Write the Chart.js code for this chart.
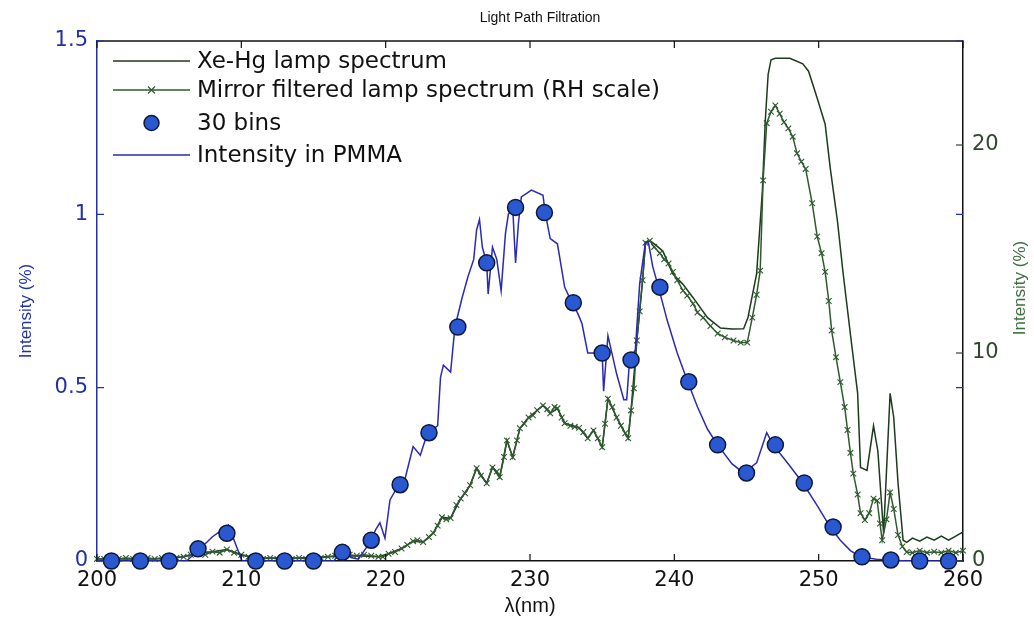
<!DOCTYPE html>
<html>
<head>
<meta charset="utf-8">
<script src="https://cdn.jsdelivr.net/npm/chart.js@4.4.1/dist/chart.umd.min.js"></script>
<style>
html,body{margin:0;padding:0;background:#fff;}
#wrap{width:1034px;height:620px;position:relative;}
</style>
</head>
<body>
<div id="wrap"><canvas id="c" width="1034" height="620"></canvas></div>
<script>
// ---------------- data ----------------
const chartTitle = 'Light Path Filtration';
const xTitle = 'λ(nm)';
const leftTitle = 'Intensity (%)';
const rightTitle = 'Intensity (%)';
const legendLabels = ['Xe-Hg lamp spectrum', 'Mirror filtered lamp spectrum (RH scale)', '30 bins', 'Intensity in PMMA'];

const xTicks = [200, 210, 220, 230, 240, 250, 260];
const leftTicks = [0, 0.5, 1, 1.5];
const rightTicks = [0, 10, 20];

// Intensity in PMMA (left axis)
const pmmaNm = [200,206.2,206.6,207,207.5,208,208.5,209.1,209.5,210.05,216.4,216.8,217.2,217.6,218.1,218.6,219,219.3,219.6,219.95,220.3,220.9,221.3,221.9,222.4,222.9,223.6,223.8,224.0,224.5,224.8,225.3,225.7,226.1,226.3,226.5,226.7,227.0,227.1,227.4,227.7,228.0,228.3,228.5,228.8,229.0,229.2,229.4,230.1,230.9,231.05,231.4,231.9,232.4,232.9,233.3,233.6,234.0,234.5,235.0,235.1,235.4,236.0,236.5,236.7,236.9,237.3,237.6,238.0,238.2,238.5,238.9,239.5,240.2,240.9,241.6,242.3,243.0,244.0,244.8,245.7,246.4,246.85,247.9,248.9,249.9,250.8,251.5,252.2,252.9,254,255,256,260];
const pmmaVal = [0,0,0.015,0.035,0.05,0.07,0.085,0.104,0.06,0,0,0.02,0.025,0.01,0.005,0.035,0.06,0.09,0.11,0.066,0.176,0.22,0.23,0.33,0.305,0.37,0.39,0.53,0.565,0.545,0.675,0.76,0.82,0.87,0.955,0.985,0.905,0.86,0.77,0.905,0.87,0.78,0.945,1.0,1.02,0.86,0.975,1.05,1.07,1.055,1.005,0.93,0.915,0.79,0.745,0.715,0.685,0.60,0.60,0.60,0.49,0.65,0.54,0.465,0.465,0.58,0.61,0.80,0.92,0.92,0.85,0.79,0.695,0.60,0.52,0.445,0.38,0.335,0.28,0.254,0.283,0.37,0.335,0.28,0.225,0.16,0.098,0.06,0.03,0.012,0.005,0.003,0,0];

// 30 bins (left axis)
const binNm = [201,203,205,207,209,211,213,215,217,219,221,223,225,227,229,231,233,235,237,239,241,243,245,247,249,251,253,255,257,259];
const binVal = [0,0,0,0.035,0.08,0,0,0,0.025,0.06,0.22,0.37,0.675,0.86,1.02,1.005,0.745,0.60,0.58,0.79,0.517,0.335,0.254,0.335,0.225,0.098,0.012,0.003,0,0];

// Mirror filtered lamp spectrum (right axis)
const mirrorNm = [200,200.5,201,201.5,202,202.5,203,203.5,204,204.5,205,205.5,206,206.5,207,207.5,208,208.5,209,209.5,210,210.5,211,211.5,212,212.5,213,213.5,214,214.5,215,215.5,216,216.5,217,217.5,218,218.5,219,219.5,219.8,220.2,220.65,221.1,221.5,221.9,222.2,222.6,223.0,223.3,223.6,223.9,224.2,224.5,224.9,225.2,225.5,225.85,226.3,226.6,227.0,227.4,227.7,227.9,228.2,228.4,228.8,229.1,229.3,229.6,229.9,230.2,230.5,230.9,231.2,231.4,231.7,231.9,232.2,232.4,232.8,233.1,233.4,233.7,234.0,234.4,234.7,235.0,235.2,235.4,235.7,236.0,236.3,236.6,236.8,237.0,237.2,237.4,237.6,237.8,238.0,238.3,238.6,239.0,239.3,239.6,239.9,240.2,240.6,240.9,241.3,241.6,242.0,242.5,243.0,243.5,244.1,244.6,245.05,245.4,245.7,245.95,246.15,246.4,246.7,247.0,247.3,247.6,247.9,248.2,248.5,248.8,249.1,249.55,249.9,250.2,250.45,250.7,250.9,251.2,251.5,251.8,252.0,252.2,252.4,252.7,252.9,253.2,253.5,253.8,254.05,254.25,254.4,254.7,254.95,255.2,255.5,255.8,256.1,256.5,257.0,257.5,258.0,258.5,259.0,259.5,260.0];
const mirrorVal = [0.1,0.1,0.15,0.1,0.15,0.1,0.1,0.15,0.1,0.15,0.1,0.15,0.2,0.3,0.4,0.3,0.45,0.4,0.55,0.4,0.3,0.2,0.15,0.1,0.15,0.1,0.15,0.1,0.15,0.1,0.15,0.15,0.2,0.25,0.2,0.3,0.25,0.3,0.25,0.2,0.2,0.35,0.43,0.6,0.77,0.95,1.0,0.91,1.15,1.34,1.7,2.1,2.0,2.06,2.69,3.0,3.26,3.64,4.46,4.1,3.74,4.5,4.3,4.03,5.0,5.8,4.99,5.8,6.38,6.6,6.9,7.0,7.25,7.48,7.3,7.1,7.4,7.34,6.9,6.62,6.5,6.45,6.4,6.2,5.9,6.28,5.9,5.47,6.6,7.8,7.4,6.9,6.5,6.14,5.9,7.24,8.3,10.6,12.0,13.5,15.3,15.4,15.1,14.8,14.5,14.3,13.9,13.5,13.0,12.76,12.37,11.95,11.7,11.3,10.94,10.75,10.6,10.5,10.5,11.7,12.8,13.96,18.3,21.05,21.6,21.9,21.5,21.1,20.8,20.4,19.6,19.2,18.85,17.2,15.6,14.8,13.9,12.5,11.08,9.8,8.6,7.4,6.3,5.2,4.2,3.2,2.3,1.97,2.3,3.0,2.9,1.8,1.0,2.0,3.3,2.5,1.25,0.7,0.43,0.4,0.5,0.4,0.45,0.4,0.5,0.4,0.5];

// Xe-Hg lamp spectrum (right-axis units)
const lampNm = [200,202,204,206,207,208,209,210,211,214,216,218,219.5,220.2,221.1,221.9,222.6,223.3,223.9,224.5,225.2,225.85,226.3,227.0,227.4,227.9,228.4,228.8,229.3,229.9,230.9,231.4,231.9,232.4,233.4,234.0,234.4,235.0,235.4,236.0,236.6,236.8,237.0,237.4,237.8,238.0,238.3,238.7,239.2,239.9,240.6,241.3,242.3,243.2,244.0,244.8,245.1,245.7,246.1,246.3,246.5,246.7,247.0,248.0,248.9,249.3,249.9,250.45,250.8,251.3,251.7,252.2,252.7,252.9,253.35,253.8,254.1,254.5,254.95,255.2,255.5,255.85,256.1,256.5,257,257.5,258,258.5,259,259.5,260];
const lampVal = [0.1,0.1,0.1,0.2,0.4,0.45,0.55,0.3,0.15,0.15,0.2,0.25,0.2,0.35,0.6,0.95,0.91,1.34,2.1,2.06,3.0,3.64,4.46,3.74,4.5,4.03,5.8,4.99,6.38,6.9,7.48,7.1,7.34,6.62,6.4,5.9,6.28,5.47,7.8,6.9,6.14,5.9,7.24,10.6,13.5,15.3,15.4,15.2,14.9,13.8,13.3,12.66,11.7,11.2,11.15,11.17,11.7,13.8,17.8,21.15,23.4,24.1,24.17,24.17,23.9,23.55,22.25,21.0,18.9,16.35,13.8,10.9,8.06,4.5,4.36,6.5,5.3,1.34,8.06,6.9,3.74,1.0,0.9,1.1,0.95,1.15,1.0,1.2,1.0,1.2,1.4];

// ---------------- styles ----------------
const BLUE_AXIS = '#2232a6';
const GREEN_AXIS = '#2c4a2c';
const GREEN_TITLE = '#3c6e3c';
const PMMA_COLOR = '#2a2ab4';
const BIN_FILL = '#2a58d0';
const BIN_EDGE = '#0e1838';
const MIRROR_COLOR = '#2f5a2f';
const LAMP_COLOR = '#1c3a1c';

const pairs = (xs, ys) => xs.map((x, i) => ({x: x, y: ys[i]}));

const decor = {
  id: 'decor',
  afterDraw(chart) {
    const ctx = chart.ctx, a = chart.chartArea;
    const sx = chart.scales.x, sy = chart.scales.y, sy2 = chart.scales.y2;
    ctx.save();
    // top frame line
    ctx.strokeStyle = '#111'; ctx.lineWidth = 1.5;
    ctx.beginPath(); ctx.moveTo(a.left, a.top); ctx.lineTo(a.right, a.top); ctx.stroke();
    // inward tick marks
    ctx.lineWidth = 1.2;
    xTicks.forEach(v => {
      const p = sx.getPixelForValue(v);
      ctx.beginPath();
      ctx.moveTo(p, a.bottom); ctx.lineTo(p, a.bottom - 7);
      ctx.moveTo(p, a.top); ctx.lineTo(p, a.top + 7);
      ctx.stroke();
    });
    ctx.strokeStyle = BLUE_AXIS;
    leftTicks.forEach(v => {
      const p = sy.getPixelForValue(v);
      ctx.beginPath();
      ctx.moveTo(a.left, p); ctx.lineTo(a.left + 7, p);
      ctx.moveTo(a.right, p); ctx.lineTo(a.right - 7, p);
      ctx.stroke();
    });
    ctx.strokeStyle = GREEN_AXIS;
    rightTicks.forEach(v => {
      const p = sy2.getPixelForValue(v);
      ctx.beginPath(); ctx.moveTo(a.right, p); ctx.lineTo(a.right - 7, p); ctx.stroke();
    });
    // titles
    ctx.textAlign = 'center'; ctx.textBaseline = 'middle';
    ctx.fillStyle = '#111';
    ctx.font = '14px "Liberation Sans", Arial, sans-serif';
    ctx.fillText(chartTitle, (a.left + a.right) / 2 + 10, a.top - 23);
    ctx.font = '20px "Liberation Sans", Arial, sans-serif';
    ctx.fillText(xTitle, (a.left + a.right) / 2, a.bottom + 45);
    ctx.save();
    ctx.translate(26, (a.top + a.bottom) / 2 + 10);
    ctx.rotate(-Math.PI / 2);
    ctx.fillStyle = BLUE_AXIS;
    ctx.font = '17px "Liberation Sans", Arial, sans-serif';
    ctx.fillText(leftTitle, 0, 0);
    ctx.restore();
    ctx.save();
    ctx.translate(1020, (a.top + a.bottom) / 2 - 13);
    ctx.rotate(-Math.PI / 2);
    ctx.fillStyle = GREEN_TITLE;
    ctx.font = '17px "Liberation Sans", Arial, sans-serif';
    ctx.fillText(rightTitle, 0, 0);
    ctx.restore();
    // legend
    const rows = [a.top + 20, a.top + 49, a.top + 82, a.top + 114];
    const x0 = a.left + 16, x1 = a.left + 93, tx = a.left + 100;
    ctx.lineWidth = 1.5;
    // row 1: lamp
    ctx.strokeStyle = LAMP_COLOR;
    ctx.beginPath(); ctx.moveTo(x0, rows[0]); ctx.lineTo(x1, rows[0]); ctx.stroke();
    // row 2: mirror with x marker
    ctx.strokeStyle = MIRROR_COLOR;
    ctx.beginPath(); ctx.moveTo(x0, rows[1]); ctx.lineTo(x1, rows[1]); ctx.stroke();
    const mx = (x0 + x1) / 2, m = 3.5;
    ctx.lineWidth = 1.2;
    ctx.beginPath();
    ctx.moveTo(mx - m, rows[1] - m); ctx.lineTo(mx + m, rows[1] + m);
    ctx.moveTo(mx - m, rows[1] + m); ctx.lineTo(mx + m, rows[1] - m);
    ctx.stroke();
    // row 3: circle
    ctx.fillStyle = BIN_FILL; ctx.strokeStyle = BIN_EDGE; ctx.lineWidth = 1.5;
    ctx.beginPath(); ctx.arc(mx, rows[2], 7.5, 0, Math.PI * 2); ctx.fill(); ctx.stroke();
    // row 4: pmma
    ctx.strokeStyle = PMMA_COLOR; ctx.lineWidth = 1.5;
    ctx.beginPath(); ctx.moveTo(x0, rows[3]); ctx.lineTo(x1, rows[3]); ctx.stroke();
    ctx.fillStyle = '#111';
    ctx.textAlign = 'left';
    ctx.font = '23px "DejaVu Sans", sans-serif';
    legendLabels.forEach((t, i) => ctx.fillText(t, tx, rows[i] + 1));
    ctx.restore();
  }
};

new Chart(document.getElementById('c'), {
  type: 'line',
  data: {
    datasets: [
      {
        label: legendLabels[2], data: pairs(binNm, binVal), yAxisID: 'y',
        showLine: false, pointRadius: 8, pointBackgroundColor: BIN_FILL,
        pointBorderColor: BIN_EDGE, pointBorderWidth: 1.5, clip: false
      },
      {
        label: legendLabels[3], data: pairs(pmmaNm, pmmaVal), yAxisID: 'y',
        borderColor: PMMA_COLOR, borderWidth: 1.5, pointRadius: 0, tension: 0
      },
      {
        label: legendLabels[1], data: pairs(mirrorNm, mirrorVal), yAxisID: 'y2',
        borderColor: MIRROR_COLOR, borderWidth: 1.5, pointStyle: 'crossRot',
        pointRadius: 4, pointBorderColor: MIRROR_COLOR, pointBorderWidth: 1.1,
        pointBackgroundColor: MIRROR_COLOR, tension: 0, clip: false
      },
      {
        label: legendLabels[0], data: pairs(lampNm, lampVal), yAxisID: 'y2',
        borderColor: LAMP_COLOR, borderWidth: 1.5, pointRadius: 0, tension: 0
      }
    ]
  },
  options: {
    responsive: false, animation: false, devicePixelRatio: 1,
    layout: {padding: {top: 41, left: 0, right: 0, bottom: 0}},
    plugins: {legend: {display: false}, tooltip: {enabled: false}, title: {display: false}},
    scales: {
      x: {
        type: 'linear', position: 'bottom', min: 200, max: 260,
        afterBuildTicks: s => { s.ticks = xTicks.map(v => ({value: v})); },
        afterFit: s => { s.height = 59; },
        ticks: {color: '#111', padding: 7, maxRotation: 0, autoSkip: false,
          font: {family: '"DejaVu Sans", sans-serif', size: 21}, callback: v => String(v)},
        grid: {drawOnChartArea: false, drawTicks: false},
        border: {color: '#111', width: 1.5}
      },
      y: {
        type: 'linear', position: 'left', min: 0, max: 1.5,
        afterBuildTicks: s => { s.ticks = leftTicks.map(v => ({value: v})); },
        afterFit: s => { s.width = 97; },
        ticks: {color: BLUE_AXIS, padding: 9,
          font: {family: '"DejaVu Sans", sans-serif', size: 21}, callback: v => String(v)},
        grid: {drawOnChartArea: false, drawTicks: false},
        border: {color: BLUE_AXIS, width: 1.5}
      },
      y2: {
        type: 'linear', position: 'right', min: 0, max: 25,
        afterBuildTicks: s => { s.ticks = rightTicks.map(v => ({value: v})); },
        afterFit: s => { s.width = 71; },
        ticks: {color: GREEN_AXIS, padding: 9,
          font: {family: '"DejaVu Sans", sans-serif', size: 21}, callback: v => String(v)},
        grid: {drawOnChartArea: false, drawTicks: false},
        border: {color: '#111', width: 1.5}
      }
    }
  },
  plugins: [decor]
});
</script>
</body>
</html>
